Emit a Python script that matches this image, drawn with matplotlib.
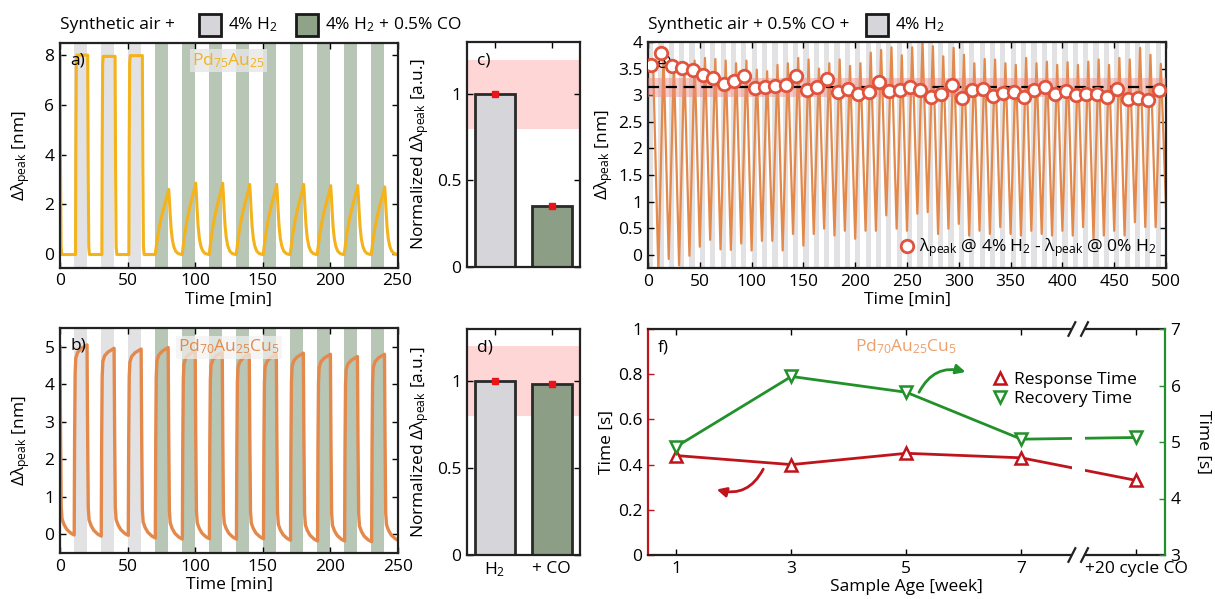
import numpy as np
import matplotlib
matplotlib.use('Agg')
import matplotlib.pyplot as plt
from matplotlib.patches import Rectangle
from matplotlib.lines import Line2D
from matplotlib.ticker import FuncFormatter
import matplotlib.transforms as mtransforms

plt.rcParams['font.family'] = ['Open Sans', 'DejaVu Sans']
plt.rcParams['mathtext.fontset'] = 'custom'
plt.rcParams['mathtext.rm'] = 'Open Sans'
plt.rcParams['mathtext.it'] = 'Open Sans:italic'
plt.rcParams['mathtext.bf'] = 'Open Sans:bold'
FS = 12.5
plt.rcParams['font.size'] = FS

# ---------------- data ----------------
# panel a (Pd75Au25)
a_h2_band_start = [10, 30, 50]
a_co_band_start = [70, 90, 110, 130, 150, 170, 190, 210, 230]
a_start_level = 8.0
a_base = -0.02
a_h2_on = [11.5, 31.0, 51.0]
a_h2_off = [20.5, 40.8, 61.0]
a_h2_peak = [8.0, 7.95, 7.98]
a_co_on = [70.5, 90.5, 110.5, 130.5, 150.5, 170.5, 190.5, 210.5, 230.5]
a_co_peak = [2.6, 2.85, 2.85, 2.8, 2.8, 2.8, 2.75, 2.75, 2.7]
# normalised pulse shapes
sq_on_dt = [0, 0.25, 0.6, 1.0]
sq_on_frac = [0, 0.55, 0.96, 1.0]
sq_off_dt = [0, 0.35, 0.8, 1.3]
sq_off_frac = [1.0, 0.45, 0.04, 0.0]
co_dt = [0, 0.8, 2.0, 3.5, 5.0, 6.5, 8.0, 9.2, 10.0, 10.5, 11.1, 11.8, 12.7, 13.8, 15.2, 17.0, 19.5]
co_frac = [0, 0.12, 0.3, 0.47, 0.61, 0.73, 0.84, 0.93, 1.0, 0.85, 0.62, 0.4, 0.23, 0.12, 0.05, 0.015, 0]

# panel b (Pd70Au25Cu5)
b_h2_band_start = [10, 30, 50]
b_co_band_start = [70, 90, 110, 130, 150, 170, 190, 210, 230]
b_start_level = 5.0
b_base0 = -0.02
b_on = [10.5, 30.5, 50.5, 70.5, 90.5, 110.5, 130.5, 150.5, 170.5, 190.5, 210.5, 230.5]
b_off = [20.0, 40.0, 60.0, 80.0, 100.0, 120.0, 140.0, 160.0, 180.0, 200.0, 220.0, 240.0]
b_peak = [5.05, 4.96, 4.94, 4.98, 4.9, 4.85, 4.8, 4.8, 4.83, 4.8, 4.74, 4.8]
b_base = [-0.05, -0.03, -0.1, -0.13, -0.12, -0.13, -0.12, -0.16, -0.18, -0.18, -0.2, -0.17]
b_on_dt = [0, 0.3, 0.7, 1.2, 2.5, 5.0, 9.5]
b_on_frac = [0, 0.5, 0.85, 0.93, 0.96, 0.98, 1.0]
b_off_dt = [0, 0.4, 0.9, 1.5, 3.0, 5.0, 8.0, 10.5]
b_off_frac = [1.0, 0.55, 0.15, 0.085, 0.055, 0.03, 0.01, 0.0]

# panels c, d
bar_labels = ['H$_\\mathregular{2}$', '+ CO']
c_values = [1.0, 0.35]
d_values = [1.0, 0.985]
norm_band = (0.8, 1.2)

# panel e (cycling in 0.5% CO)
e_start = 3.5
e_peak = [3.55, 3.75, 3.6, 3.6, 3.65, 3.7, 3.68, 3.65, 3.6, 3.65,
          3.48, 3.45, 3.57, 3.6, 3.7, 3.67, 3.5, 3.6, 3.67, 3.55,
          3.6, 3.8, 3.85, 3.9, 3.75, 3.9, 4.0, 3.92, 3.73, 3.89,
          3.76, 3.6, 3.68, 3.67, 3.6, 3.57, 3.7, 3.6, 3.63, 3.57,
          3.62, 3.57, 3.63, 3.67, 3.57, 3.7, 3.67, 3.89, 3.76, 3.59]
e_trough = [-0.3, -0.08, -0.2, -0.02, 0.15, 0.28, 0.1, 0.09, 0.21, 0.08,
            0.26, 0.26, 0.08, 0.39, 0.17, 0.39, 0.49, 0.36, 0.45, 0.3,
            0.45, 0.45, 0.74, 0.49, 0.45, 0.77, 0.8, 0.39, 0.49, 0.58,
            0.36, 0.45, 0.39, 0.52, 0.39, 0.36, 0.45, 0.39, 0.36, 0.45,
            0.36, 0.52, 0.3, 0.36, 0.45, 0.36, 0.61, 0.52, 0.52, 0.9]
e_delta = [3.57, 3.79, 3.54, 3.51, 3.48, 3.38, 3.32, 3.21, 3.26, 3.37,
           3.13, 3.15, 3.17, 3.19, 3.36, 3.10, 3.16, 3.31, 3.06, 3.12,
           3.02, 3.06, 3.24, 3.07, 3.10, 3.15, 3.10, 2.97, 3.02, 3.19,
           2.94, 3.09, 3.11, 2.99, 3.04, 3.06, 2.96, 3.10, 3.15, 3.02,
           3.07, 3.00, 3.02, 3.02, 2.97, 3.12, 2.93, 2.95, 2.90, 3.09]
e_mean = 3.15
e_band = (2.97, 3.33)

# panel f
f_x = [1, 3, 5, 7, 9]
f_xlabels = ['1', '3', '5', '7', '+20 cycle CO']
f_response = [0.44, 0.40, 0.45, 0.43, 0.33]
f_recovery = [4.92, 6.16, 5.88, 5.05, 5.08]

# ---------------- styles ----------------
GRAY_BAND = '#E2E2E5'
GREEN_BAND = '#B8C6B5'
GRAY_BOX = '#D6D6DA'
GREEN_BOX = '#8FA388'
BAR_GRAY = '#D5D5DA'
BAR_GREEN = '#8C9E86'
GOLD = '#F4B21B'
ORANGE = '#E3894B'
LIGHT_ORANGE = '#EBA06E'
RED = '#C0141C'
GREEN = '#22912A'
CIRC = '#E0533D'
SPINE = '#222222'

fmt = FuncFormatter(lambda v, p: f'{v:g}')

W, H = 1215, 599
fig = plt.figure(figsize=(12.15, 5.99), dpi=100)


def px_axes(x0, y0, x1, y1):
    return fig.add_axes([x0 / W, 1 - y1 / H, (x1 - x0) / W, (y1 - y0) / H])


def style(ax):
    for s in ax.spines.values():
        s.set_linewidth(1.6)
        s.set_color(SPINE)
    ax.tick_params(direction='in', top=True, right=True, length=4, width=1,
                   labelsize=FS, pad=4)


def seg(t0, dts, fracs, lo, hi):
    return [t0 + d for d in dts], [lo + f * (hi - lo) for f in fracs]


axa = px_axes(60, 42.7, 397.5, 267.7)
axb = px_axes(60, 328, 398, 553)
axc = px_axes(466.7, 42.3, 580, 266.7)
axd = px_axes(466.7, 329, 580, 555)
axe = px_axes(648, 42, 1166, 268)
axf = px_axes(647.7, 329, 1165, 555)

# ---------------- panel a ----------------
for s in a_h2_band_start:
    axa.axvspan(s, s + 10, color=GRAY_BAND, lw=0, zorder=0)
for s in a_co_band_start:
    axa.axvspan(s, s + 10, color=GREEN_BAND, lw=0, zorder=0)
ta, va = seg(0, sq_off_dt, sq_off_frac, a_base, a_start_level)
for on, off, pk in zip(a_h2_on, a_h2_off, a_h2_peak):
    t1, v1 = seg(on, sq_on_dt, sq_on_frac, a_base, pk)
    t2, v2 = seg(off, sq_off_dt, sq_off_frac, a_base, pk)
    ta += t1 + t2
    va += v1 + v2
for on, pk in zip(a_co_on, a_co_peak):
    t1, v1 = seg(on, co_dt, co_frac, a_base, pk)
    ta += t1
    va += v1
axa.plot(ta, va, color=GOLD, lw=2.2, zorder=2, solid_joinstyle='round')
axa.set_xlim(0, 250)
axa.set_ylim(-0.55, 8.5)
axa.set_xticks([0, 50, 100, 150, 200, 250])
axa.set_yticks([0, 2, 4, 6, 8])
axa.set_xlabel('Time [min]', labelpad=2)
axa.set_ylabel('Δλ$_{\\mathregular{peak}}$ [nm]', labelpad=9)
style(axa)
axa.text(0.03, 0.92, 'a)', transform=axa.transAxes, va='center', fontsize=FS)
axa.text(0.5, 0.92, 'Pd$_{\\mathregular{75}}$Au$_{\\mathregular{25}}$', transform=axa.transAxes,
         ha='center', va='center', color=GOLD, fontsize=FS, zorder=3,
         bbox=dict(facecolor='#E6E6E6', edgecolor='none', alpha=0.8, pad=1.5))

# ---------------- panel b ----------------
for s in b_h2_band_start:
    axb.axvspan(s, s + 10, color=GRAY_BAND, lw=0, zorder=0)
for s in b_co_band_start:
    axb.axvspan(s, s + 10, color=GREEN_BAND, lw=0, zorder=0)
tb, vb = seg(0, b_off_dt, b_off_frac, b_base0, b_start_level)
prev = b_base0
for on, off, pk, base in zip(b_on, b_off, b_peak, b_base):
    t1, v1 = seg(on, b_on_dt, b_on_frac, prev, pk)
    t2, v2 = seg(off, b_off_dt, b_off_frac, base, pk)
    tb += t1 + t2
    vb += v1 + v2
    prev = base
axb.plot(tb, vb, color=ORANGE, lw=2.4, zorder=2, solid_joinstyle='round')
axb.set_xlim(0, 250)
axb.set_ylim(-0.5, 5.5)
axb.set_xticks([0, 50, 100, 150, 200, 250])
axb.set_yticks([0, 1, 2, 3, 4, 5])
axb.set_xlabel('Time [min]', labelpad=2)
axb.set_ylabel('Δλ$_{\\mathregular{peak}}$ [nm]', labelpad=9)
style(axb)
axb.text(0.03, 0.92, 'b)', transform=axb.transAxes, va='center', fontsize=FS)
axb.text(0.5, 0.915, 'Pd$_{\\mathregular{70}}$Au$_{\\mathregular{25}}$Cu$_{\\mathregular{5}}$',
         transform=axb.transAxes, ha='center', va='center', color=ORANGE, fontsize=FS, zorder=3,
         bbox=dict(facecolor='#F2F2F2', edgecolor='none', alpha=0.7, pad=1.5))

# ---------------- panels c, d ----------------
for ax, vals, lab in [(axc, c_values, 'c)'), (axd, d_values, 'd)')]:
    ax.axhspan(norm_band[0], norm_band[1], color='#FFD6D6', lw=0, zorder=0)
    xs = [1, 2]
    ax.bar(xs, vals, width=0.7, color=[BAR_GRAY, BAR_GREEN], edgecolor='#2A2A2A',
           linewidth=2, zorder=2)
    ax.plot(xs, vals, 's', color='#E8141C', ms=5, zorder=3)
    ax.set_xlim(0.5, 2.5)
    ax.set_ylim(0, 1.3)
    ax.set_yticks([0, 0.5, 1])
    ax.yaxis.set_major_formatter(fmt)
    ax.set_xticks(xs)
    ax.set_ylabel('Normalized Δλ$_{\\mathregular{peak}}$ [a.u.]', labelpad=4)
    style(ax)
    ax.text(0.09, 0.92, lab, transform=ax.transAxes, va='center', fontsize=FS)
axc.set_xticklabels(['', ''])
axd.set_xticklabels(bar_labels)

# ---------------- panel e ----------------
for s in np.arange(0, 500, 10):
    axe.axvspan(s, s + 5, color=GRAY_BAND, lw=0, zorder=0)
e_peak_t = np.arange(5, 500, 10)
e_trough_t = np.arange(10, 501, 10)
te = [0.0]
ve = [e_start]
for k in range(len(e_peak)):
    te += [e_peak_t[k], e_trough_t[k]]
    ve += [e_peak[k], e_trough[k]]
axe.plot(te, ve, color=ORANGE, lw=1.6, zorder=2)
axe.axhspan(e_band[0], e_band[1], color='#F08A80', alpha=0.45, lw=0, zorder=3)
axe.axhline(e_mean, color='black', ls=(0, (5, 3)), lw=1.6, zorder=4)
e_delta_t = np.arange(3, 500, 10)
axe.plot(e_delta_t, e_delta, 'o', ms=9, mfc='white', mec=CIRC, mew=2, zorder=5,
         label='λ$_{\\mathregular{peak}}$ @ 4% H$_{\\mathregular{2}}$ - λ$_{\\mathregular{peak}}$ @ 0% H$_{\\mathregular{2}}$')
axe.set_xlim(0, 500)
axe.set_ylim(-0.25, 4)
axe.set_xticks(np.arange(0, 501, 50))
axe.set_yticks(np.arange(0, 4.01, 0.5))
axe.yaxis.set_major_formatter(fmt)
axe.set_xlabel('Time [min]', labelpad=2)
axe.set_ylabel('Δλ$_{\\mathregular{peak}}$ [nm]', labelpad=2)
style(axe)
axe.text(0.017, 0.905, 'e)', transform=axe.transAxes, va='center', fontsize=FS, zorder=4)
axe.legend(loc='lower right', frameon=False, fontsize=FS, handletextpad=0.2,
           borderaxespad=0.1, handlelength=1.0)

# ---------------- panel f ----------------
axf2 = axf.twinx()
axf.plot(f_x, f_response, color=RED, lw=2, marker='^', ms=8, mfc='white', mec=RED, mew=1.8,
         zorder=3)
axf2.plot(f_x, f_recovery, color=GREEN, lw=2, marker='v', ms=8, mfc='white', mec=GREEN,
          mew=1.8, zorder=3)
axf.set_xlim(0.5, 9.5)
axf.set_ylim(0, 1)
axf2.set_ylim(3, 7)
axf.set_xticks(f_x)
axf.set_xticklabels(f_xlabels)
axf.set_yticks([0, 0.2, 0.4, 0.6, 0.8, 1])
axf.yaxis.set_major_formatter(fmt)
axf2.set_yticks([3, 4, 5, 6, 7])
for s in axf.spines.values():
    s.set_linewidth(1.6)
    s.set_color(SPINE)
axf.spines['left'].set_color(RED)
axf.spines['right'].set_visible(False)
axf2.spines['left'].set_visible(False)
axf2.spines['top'].set_visible(False)
axf2.spines['bottom'].set_visible(False)
axf2.spines['right'].set_color(GREEN)
axf2.spines['right'].set_linewidth(1.6)
axf.tick_params(axis='x', direction='in', top=True, length=4, width=1, labelsize=FS, pad=4)
axf.tick_params(axis='y', direction='in', right=False, length=4, width=1, labelsize=FS,
                color=RED, pad=4)
axf2.tick_params(axis='y', direction='in', length=4, width=1, labelsize=FS, color=GREEN, pad=4)
axf.set_xlabel('Sample Age [week]', labelpad=2)
axf.set_ylabel('Time [s]', labelpad=2)
axf2.set_ylabel('Time [s]', rotation=270, labelpad=22)
axf.text(0.02, 0.92, 'f)', transform=axf.transAxes, va='center', fontsize=FS)
axf.text(0.5, 0.92, 'Pd$_{\\mathregular{70}}$Au$_{\\mathregular{25}}$Cu$_{\\mathregular{5}}$',
         transform=axf.transAxes, ha='center', va='center', color=LIGHT_ORANGE, fontsize=FS)
# axis break
axf2.axvspan(7.88, 8.1, ymin=-0.015, ymax=1.015, color='white', lw=0, zorder=6, clip_on=False)
btr = mtransforms.blended_transform_factory(axf2.transData, axf2.transAxes)
for xb in (7.88, 8.1):
    for yb in (0, 1):
        axf2.plot([xb - 0.06, xb + 0.06], [yb - 0.03, yb + 0.03], color=SPINE, lw=1.6,
                  transform=btr, clip_on=False, zorder=7)
# arrows
axf.annotate('', xy=(1.70, 0.29), xytext=(2.51, 0.38),
             arrowprops=dict(arrowstyle='-|>', color=RED, lw=2, mutation_scale=14,
                             connectionstyle='arc3,rad=-0.4', shrinkA=0, shrinkB=0))
axf2.annotate('', xy=(6.03, 6.24), xytext=(5.22, 5.88),
              arrowprops=dict(arrowstyle='-|>', color=GREEN, lw=2, mutation_scale=14,
                              connectionstyle='arc3,rad=-0.4', shrinkA=0, shrinkB=0))
leg_handles = [Line2D([], [], ls='none', marker='^', ms=8, mfc='white', mec=RED, mew=1.8),
               Line2D([], [], ls='none', marker='v', ms=8, mfc='white', mec=GREEN, mew=1.8)]
legf = axf2.legend(leg_handles, ['Response Time', 'Recovery Time'], loc='upper left',
                   bbox_to_anchor=(0.655, 0.84), frameon=False, fontsize=FS, handlelength=0.8,
                   handletextpad=0.4, labelspacing=0.15, borderaxespad=0)
legf.set_zorder(10)

# ---------------- top legends ----------------
def ftext(x, y, s):
    fig.text(x / W, 1 - y / H, s, ha='left', va='center', fontsize=FS)


def fbox(x, y, w, h, c):
    fig.add_artist(Rectangle((x / W, 1 - (y + h) / H), w / W, h / H, transform=fig.transFigure,
                             facecolor=c, edgecolor='#1A1A1A', lw=2))


ftext(60, 25, 'Synthetic air +')
fbox(199, 14, 22, 22, GRAY_BOX)
ftext(228, 25, '4% H$_{\\mathregular{2}}$')
fbox(296, 14, 22, 22, GREEN_BOX)
ftext(325, 25, '4% H$_{\\mathregular{2}}$ + 0.5% CO')
ftext(648, 25, 'Synthetic air + 0.5% CO +')
fbox(866, 14, 22, 22, GRAY_BOX)
ftext(895, 25, '4% H$_{\\mathregular{2}}$')

fig.savefig('out.png', dpi=100)
